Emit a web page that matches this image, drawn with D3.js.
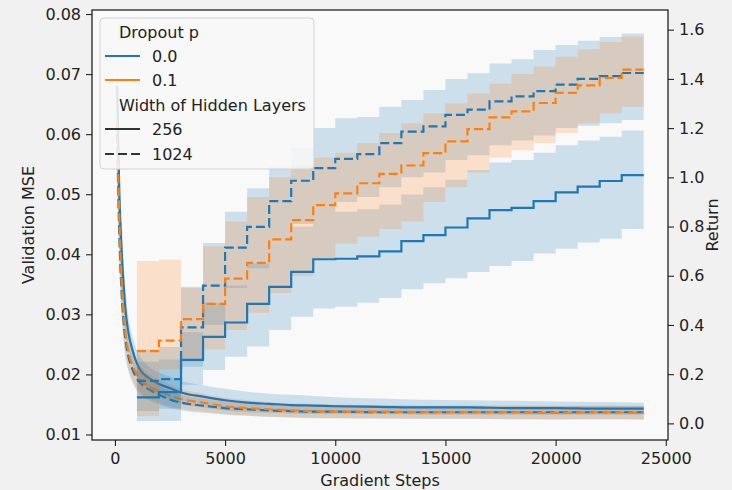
<!DOCTYPE html>
<html><head><meta charset="utf-8">
<script src="https://cdn.jsdelivr.net/npm/d3@7"></script>
<style>
html,body{margin:0;padding:0;background:#f1f1f1;}
svg{display:block;font-family:"DejaVu Sans",sans-serif;}
</style></head><body>
<svg id="chart" width="732" height="490"></svg>
<script>
// ---------- data ----------
const dropoutLabels = ["0.0", "0.1"];
const widthLabels = ["256", "1024"];
const xTicks = [0, 5000, 10000, 15000, 20000, 25000];
const yTicksLeft = [0.01, 0.02, 0.03, 0.04, 0.05, 0.06, 0.07, 0.08];
const yTicksRight = [0.0, 0.2, 0.4, 0.6, 0.8, 1.0, 1.2, 1.4, 1.6];

// Validation MSE (left axis)
const mseSteps = [100, 200, 300, 400, 500, 600, 800, 1000, 1200, 1500, 2000, 2500, 3000, 4000, 5000, 6000, 7000, 8000, 9000, 10000, 12000, 14000, 16000, 18000, 20000, 22000, 24000];
const mseB256   = [0.068, 0.050, 0.041, 0.0345, 0.0300, 0.0272, 0.0240, 0.0218, 0.0205, 0.0195, 0.0184, 0.0177, 0.0170, 0.0163, 0.0157, 0.0153, 0.0151, 0.0149, 0.0148, 0.0147, 0.0146, 0.0145, 0.0145, 0.0144, 0.0144, 0.0143, 0.0143];
const mseB256Lo = [0.058, 0.043, 0.036, 0.0305, 0.0268, 0.0245, 0.0218, 0.0198, 0.0186, 0.0177, 0.0166, 0.0158, 0.0151, 0.0145, 0.0140, 0.0137, 0.0136, 0.0135, 0.0134, 0.0134, 0.0134, 0.0133, 0.0133, 0.0133, 0.0133, 0.0133, 0.0133];
const mseB256Hi = [0.0775, 0.057, 0.046, 0.0385, 0.0332, 0.0300, 0.0263, 0.0240, 0.0226, 0.0214, 0.0203, 0.0196, 0.0189, 0.0182, 0.0176, 0.0171, 0.0168, 0.0166, 0.0164, 0.0162, 0.0160, 0.0158, 0.0157, 0.0156, 0.0155, 0.0154, 0.0153];
const mseB1024   = [0.060, 0.043, 0.034, 0.0285, 0.0252, 0.0232, 0.0208, 0.0193, 0.0184, 0.0176, 0.0166, 0.0158, 0.0153, 0.0148, 0.0144, 0.0142, 0.0140, 0.0139, 0.0138, 0.0138, 0.0137, 0.0137, 0.0137, 0.0137, 0.0137, 0.0137, 0.0137];
const mseB1024Lo = [0.052, 0.038, 0.030, 0.0252, 0.0224, 0.0207, 0.0186, 0.0173, 0.0165, 0.0158, 0.0150, 0.0144, 0.0140, 0.0136, 0.0133, 0.0131, 0.0129, 0.0128, 0.0127, 0.0127, 0.0126, 0.0126, 0.0126, 0.0125, 0.0125, 0.0125, 0.0125];
const mseB1024Hi = [0.068, 0.048, 0.038, 0.0318, 0.0280, 0.0257, 0.0230, 0.0213, 0.0203, 0.0194, 0.0182, 0.0172, 0.0166, 0.0160, 0.0155, 0.0153, 0.0151, 0.0150, 0.0149, 0.0149, 0.0148, 0.0148, 0.0148, 0.0148, 0.0148, 0.0148, 0.0148];
const mseO1024   = [0.062, 0.046, 0.036, 0.0300, 0.0262, 0.0240, 0.0215, 0.0200, 0.0190, 0.0181, 0.0172, 0.0165, 0.0159, 0.0153, 0.0147, 0.0144, 0.0142, 0.0140, 0.0139, 0.0138, 0.0138, 0.0137, 0.0137, 0.0137, 0.0136, 0.0137, 0.0136];
const mseO1024Lo = [0.053, 0.040, 0.031, 0.0262, 0.0230, 0.0212, 0.0190, 0.0177, 0.0168, 0.0161, 0.0153, 0.0147, 0.0143, 0.0138, 0.0134, 0.0132, 0.0130, 0.0129, 0.0128, 0.0127, 0.0127, 0.0126, 0.0126, 0.0126, 0.0125, 0.0126, 0.0125];
const mseO1024Hi = [0.071, 0.052, 0.041, 0.0340, 0.0296, 0.0270, 0.0242, 0.0224, 0.0213, 0.0202, 0.0192, 0.0184, 0.0176, 0.0168, 0.0161, 0.0157, 0.0154, 0.0152, 0.0151, 0.0150, 0.0149, 0.0148, 0.0148, 0.0148, 0.0147, 0.0148, 0.0147];

// Return (right axis), evaluated every 1000 steps, held until next evaluation
const retSteps = [1000, 2000, 3000, 4000, 5000, 6000, 7000, 8000, 9000, 10000, 11000, 12000, 13000, 14000, 15000, 16000, 17000, 18000, 19000, 20000, 21000, 22000, 23000];
const retEndStep = 24000;
const retB256   = [0.106, 0.127, 0.258, 0.352, 0.410, 0.486, 0.555, 0.616, 0.667, 0.669, 0.679, 0.699, 0.741, 0.765, 0.796, 0.833, 0.867, 0.876, 0.903, 0.939, 0.962, 0.985, 1.009];
const retB256Lo = [0.010, 0.010, 0.157, 0.217, 0.271, 0.312, 0.380, 0.433, 0.467, 0.474, 0.490, 0.510, 0.545, 0.570, 0.590, 0.615, 0.640, 0.660, 0.690, 0.710, 0.735, 0.750, 0.790];
const retB256Hi = [0.250, 0.260, 0.370, 0.490, 0.560, 0.650, 0.730, 0.800, 0.860, 0.860, 0.870, 0.890, 0.930, 0.960, 0.990, 1.030, 1.060, 1.070, 1.100, 1.130, 1.150, 1.165, 1.190];
const retB1024   = [0.173, 0.180, 0.390, 0.560, 0.714, 0.799, 0.903, 0.986, 1.037, 1.075, 1.094, 1.139, 1.186, 1.207, 1.254, 1.275, 1.309, 1.329, 1.350, 1.377, 1.400, 1.411, 1.424];
const retB1024Lo = [0.050, 0.060, 0.230, 0.400, 0.550, 0.630, 0.730, 0.810, 0.860, 0.900, 0.920, 0.960, 1.000, 1.020, 1.070, 1.090, 1.130, 1.150, 1.170, 1.200, 1.210, 1.220, 1.233];
const retB1024Hi = [0.300, 0.310, 0.555, 0.733, 0.860, 0.956, 1.044, 1.120, 1.200, 1.240, 1.245, 1.287, 1.314, 1.355, 1.400, 1.423, 1.463, 1.480, 1.517, 1.538, 1.555, 1.570, 1.585];
const retO1024   = [0.294, 0.336, 0.424, 0.486, 0.588, 0.652, 0.748, 0.826, 0.887, 0.935, 0.976, 1.014, 1.048, 1.098, 1.146, 1.196, 1.244, 1.268, 1.302, 1.343, 1.374, 1.404, 1.438];
const retO1024Lo = [0.030, 0.220, 0.250, 0.300, 0.380, 0.450, 0.530, 0.600, 0.670, 0.730, 0.760, 0.790, 0.820, 0.900, 0.960, 1.020, 1.080, 1.110, 1.140, 1.180, 1.220, 1.260, 1.287];
const retO1024Hi = [0.660, 0.665, 0.550, 0.720, 0.820, 0.920, 1.000, 1.050, 1.080, 1.100, 1.140, 1.180, 1.220, 1.260, 1.300, 1.340, 1.380, 1.420, 1.450, 1.490, 1.520, 1.550, 1.572];

// ---------- layout / scales ----------
const BLUE = "#1f77b4", ORANGE = "#ff7f0e";
const plot = {left: 92, right: 668, top: 10, bottom: 440};
const svg = d3.select("#chart");
const x = d3.scaleLinear().domain([-1040, 25100]).range([plot.left, plot.right]);
const yL = d3.scaleLinear().domain([0.00908, 0.08067]).range([plot.bottom, plot.top]);
const yR = d3.scaleLinear().domain([-0.0675, 1.68]).range([plot.bottom, plot.top]);

svg.append("rect").attr("x", plot.left).attr("y", plot.top)
  .attr("width", plot.right - plot.left).attr("height", plot.bottom - plot.top)
  .attr("fill", "#f9f9f9");

svg.append("clipPath").attr("id", "clip").append("rect")
  .attr("x", plot.left).attr("y", plot.top)
  .attr("width", plot.right - plot.left).attr("height", plot.bottom - plot.top);
const g = svg.append("g").attr("clip-path", "url(#clip)");

function zip(steps, m, lo, hi) { return steps.map((s, i) => ({s, m: m[i], lo: lo[i], hi: hi[i]})); }
function withEnd(arr) { const l = arr[arr.length - 1]; return arr.concat([{s: retEndStep, m: l.m, lo: l.lo, hi: l.hi}]); }

const mseSeries = [
  {color: BLUE, dash: null, data: zip(mseSteps, mseB256, mseB256Lo, mseB256Hi)},
  {color: BLUE, dash: "9,4", data: zip(mseSteps, mseB1024, mseB1024Lo, mseB1024Hi)},
  {color: ORANGE, dash: "9,4", data: zip(mseSteps, mseO1024, mseO1024Lo, mseO1024Hi)}
];
const retSeries = [
  {color: BLUE, dash: null, data: withEnd(zip(retSteps, retB256, retB256Lo, retB256Hi))},
  {color: BLUE, dash: "9,4", data: withEnd(zip(retSteps, retB1024, retB1024Lo, retB1024Hi))},
  {color: ORANGE, dash: "9,4", data: withEnd(zip(retSteps, retO1024, retO1024Lo, retO1024Hi))}
];

// MSE (ax1)
const areaL = d3.area().x(d => x(d.s)).y0(d => yL(d.lo)).y1(d => yL(d.hi)).curve(d3.curveMonotoneX);
const lineL = d3.line().x(d => x(d.s)).y(d => yL(d.m)).curve(d3.curveMonotoneX);
mseSeries.forEach(sr => g.append("path").attr("d", areaL(sr.data)).attr("fill", sr.color).attr("fill-opacity", 0.2));
mseSeries.forEach(sr => g.append("path").attr("d", lineL(sr.data)).attr("fill", "none")
  .attr("stroke", sr.color).attr("stroke-width", 2.2).attr("stroke-dasharray", sr.dash));

// Return (ax2, twin)
const areaR = d3.area().x(d => x(d.s)).y0(d => yR(d.lo)).y1(d => yR(d.hi)).curve(d3.curveStepAfter);
const lineR = d3.line().x(d => x(d.s)).y(d => yR(d.m)).curve(d3.curveStepAfter);
retSeries.forEach(sr => g.append("path").attr("d", areaR(sr.data)).attr("fill", sr.color).attr("fill-opacity", 0.2));
retSeries.forEach(sr => g.append("path").attr("d", lineR(sr.data)).attr("fill", "none")
  .attr("stroke", sr.color).attr("stroke-width", 2.2).attr("stroke-dasharray", sr.dash));

// ---------- axes ----------
const TXT = "#222";
function styleAxis(sel) {
  sel.select(".domain").remove();
  sel.selectAll(".tick line").attr("stroke", "#222").attr("stroke-width", 1.1);
  sel.selectAll(".tick text").attr("fill", TXT).style("font-size", "16px").style("font-family", "DejaVu Sans");
}
svg.append("g").attr("transform", `translate(0,${plot.bottom})`)
  .call(d3.axisBottom(x).tickValues(xTicks).tickFormat(d3.format("d")).tickSize(6).tickPadding(7))
  .call(styleAxis);
svg.append("g").attr("transform", `translate(${plot.left},0)`)
  .call(d3.axisLeft(yL).tickValues(yTicksLeft).tickFormat(d3.format(".2f")).tickSize(6).tickPadding(5))
  .call(styleAxis);
svg.append("g").attr("transform", `translate(${plot.right},0)`)
  .call(d3.axisRight(yR).tickValues(yTicksRight).tickFormat(d3.format(".1f")).tickSize(6).tickPadding(5))
  .call(styleAxis);

svg.append("rect").attr("x", plot.left).attr("y", plot.top)
  .attr("width", plot.right - plot.left).attr("height", plot.bottom - plot.top)
  .attr("fill", "none").attr("stroke", "#111").attr("stroke-width", 1.2);

svg.append("text").attr("x", (plot.left + plot.right) / 2).attr("y", 486)
  .attr("text-anchor", "middle").attr("fill", TXT).style("font-size", "16px").text("Gradient Steps");
svg.append("text").attr("transform", `translate(28,${(plot.top + plot.bottom) / 2}) rotate(-90)`)
  .attr("text-anchor", "middle").attr("dy", "0.35em").attr("fill", TXT).style("font-size", "16px").text("Validation MSE");
svg.append("text").attr("transform", `translate(712,${(plot.top + plot.bottom) / 2}) rotate(-90)`)
  .attr("text-anchor", "middle").attr("dy", "0.35em").attr("fill", TXT).style("font-size", "16px").text("Return");

// ---------- legend ----------
const lg = svg.append("g");
lg.append("rect").attr("x", 100).attr("y", 18).attr("width", 214).attr("height", 151).attr("rx", 4)
  .attr("fill", "#f8f8f8").attr("fill-opacity", 0.85).attr("stroke", "#d2d2d2").attr("stroke-width", 1);
const rows = [
  {type: "title", text: "Dropout p", y: 32},
  {type: "entry", text: dropoutLabels[0], color: BLUE, dash: null, y: 56},
  {type: "entry", text: dropoutLabels[1], color: ORANGE, dash: null, y: 80},
  {type: "title", text: "Width of Hidden Layers", y: 105},
  {type: "entry", text: widthLabels[0], color: "#333", dash: null, y: 129},
  {type: "entry", text: widthLabels[1], color: "#333", dash: "9,4", y: 154}
];
rows.forEach(r => {
  if (r.type === "title") {
    lg.append("text").attr("x", 119).attr("y", r.y).attr("dy", "0.36em").attr("fill", TXT)
      .style("font-size", "16px").text(r.text);
  } else {
    lg.append("line").attr("x1", 105).attr("x2", 140).attr("y1", r.y).attr("y2", r.y)
      .attr("stroke", r.color).attr("stroke-width", 2.2).attr("stroke-dasharray", r.dash);
    lg.append("text").attr("x", 152).attr("y", r.y).attr("dy", "0.36em").attr("fill", TXT)
      .style("font-size", "16px").text(r.text);
  }
});
</script>
</body></html>
